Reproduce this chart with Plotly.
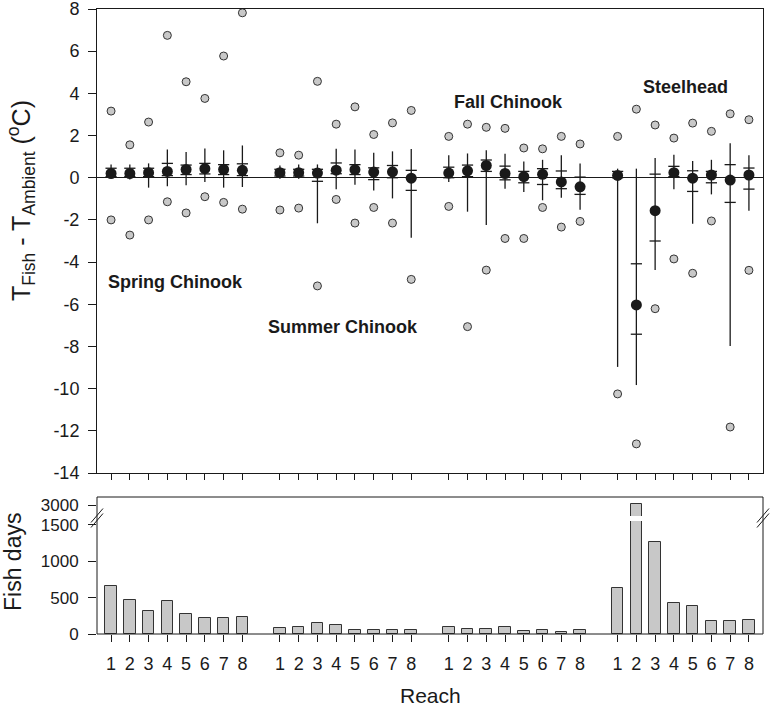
import plotly.graph_objects as go

# ---------------- data ----------------
groups = ["Spring Chinook", "Summer Chinook", "Fall Chinook", "Steelhead"]
reaches = [1, 2, 3, 4, 5, 6, 7, 8]

# mean temperature difference (black dots)
spring_mean = [0.20, 0.20, 0.24, 0.30, 0.39, 0.43, 0.39, 0.35]
summer_mean = [0.24, 0.24, 0.22, 0.36, 0.38, 0.27, 0.28, -0.02]
fall_mean = [0.22, 0.33, 0.58, 0.20, 0.05, 0.16, -0.20, -0.43]
steel_mean = [0.11, -6.03, -1.56, 0.24, -0.02, 0.13, -0.11, 0.13]

# extreme values (grey dots)
spring_max = [3.16, 1.56, 2.64, 6.75, 4.55, 3.76, 5.77, 7.82]
summer_max = [1.18, 1.07, 4.57, 2.54, 3.36, 2.05, 2.60, 3.19]
fall_max = [1.96, 2.54, 2.39, 2.34, 1.41, 1.37, 1.96, 1.60]
steel_max = [1.96, 3.25, 2.50, 1.88, 2.59, 2.20, 3.03, 2.75]

spring_min = [-2.00, -2.72, -2.00, -1.14, -1.67, -0.90, -1.17, -1.49]
summer_min = [-1.53, -1.44, -5.13, -1.03, -2.15, -1.41, -2.15, -4.82]
fall_min = [-1.36, -7.06, -4.38, -2.88, -2.88, -1.41, -2.34, -2.07]
steel_min = [-10.25, -12.62, -6.21, -3.85, -4.53, -2.05, -11.82, -4.39]

# whisker ends
spring_hi = [0.63, 0.63, 0.68, 1.34, 1.22, 1.39, 1.30, 1.53]
summer_hi = [0.58, 0.63, 0.63, 1.37, 1.34, 1.18, 1.25, 1.36]
fall_hi = [1.07, 1.15, 1.30, 1.14, 0.77, 0.85, 1.06, 0.68]
steel_hi = [0.43, 0.43, 0.93, 1.09, 0.79, 0.85, 1.63, 1.07]

spring_lo = [-0.02, -0.08, -0.47, -0.40, -0.36, -0.20, -0.47, -0.44]
summer_lo = [-0.05, -0.05, -2.16, -0.55, -0.33, -0.60, -0.98, -2.84]
fall_lo = [-0.20, -1.61, -2.24, -0.52, -0.68, -1.07, -0.95, -1.52]
steel_lo = [-8.97, -9.83, -4.38, -0.55, -2.18, -0.79, -7.98, -1.56]

# quartile caps
spring_q3 = [0.45, 0.45, 0.45, 0.68, 0.60, 0.68, 0.62, 0.66]
summer_q3 = [0.40, 0.40, 0.40, 0.70, 0.62, 0.47, 0.58, 0.35]
fall_q3 = [0.50, 0.60, 0.84, 0.55, 0.30, 0.43, 0.32, 0.03]
steel_q3 = [0.30, -4.08, 0.17, 0.54, 0.33, 0.30, 0.62, 0.46]

spring_q1 = [0.05, 0.05, 0.05, 0.10, 0.15, 0.18, 0.15, 0.10]
summer_q1 = [0.08, 0.08, -0.17, 0.19, 0.15, -0.09, 0.00, -0.60]
fall_q1 = [0.00, 0.05, 0.30, -0.10, -0.24, -0.32, -0.52, -0.79]
steel_q1 = [0.00, -7.42, -3.00, 0.05, -0.65, -0.24, -1.17, -0.54]

# fish days (bars)
spring_days = [655, 465, 320, 453, 278, 213, 222, 238]
summer_days = [83, 97, 153, 125, 56, 51, 56, 60]
fall_days = [102, 74, 69, 97, 42, 56, 32, 56]
steel_days = [633, 3030, 1263, 421, 380, 172, 172, 195]

# tick labels
reach_tick_labels = [str(r) for r in reaches]
temp_ticks = [-14, -12, -10, -8, -6, -4, -2, 0, 2, 4, 6, 8]
temp_tick_labels = ["-14", "-12", "-10", "-8", "-6", "-4", "-2", "0", "2", "4", "6", "8"]
days_ticks_low = [0, 500, 1000, 1500]
days_ticks_high = [3000]
# --------------------------------------

means = spring_mean + summer_mean + fall_mean + steel_mean
maxs = spring_max + summer_max + fall_max + steel_max
mins = spring_min + summer_min + fall_min + steel_min
his = spring_hi + summer_hi + fall_hi + steel_hi
los = spring_lo + summer_lo + fall_lo + steel_lo
q3s = spring_q3 + summer_q3 + fall_q3 + steel_q3
q1s = spring_q1 + summer_q1 + fall_q1 + steel_q1
days = spring_days + summer_days + fall_days + steel_days

xpos = [g * 9 + r for g in range(len(groups)) for r in reaches]
ticktext = reach_tick_labels * len(groups)

FONT = "Arial, Liberation Sans, Helvetica, sans-serif"
INK = "#1a1a1a"
GREY = "#c8c8c8"

fig = go.Figure()

# grey extreme dots
fig.add_trace(go.Scatter(
    x=xpos + xpos, y=maxs + mins, mode="markers",
    marker=dict(size=8, color=GREY, line=dict(color="#333333", width=1)),
    xaxis="x", yaxis="y", showlegend=False, hoverinfo="skip"))

# quartile caps
fig.add_trace(go.Scatter(
    x=xpos + xpos, y=q3s + q1s, mode="markers",
    marker=dict(symbol="line-ew", size=8, color=INK, line=dict(color=INK, width=1.3)),
    xaxis="x", yaxis="y", showlegend=False, hoverinfo="skip"))

# means with whiskers
fig.add_trace(go.Scatter(
    x=xpos, y=means, mode="markers",
    marker=dict(size=11, color=INK),
    error_y=dict(type="data", symmetric=False,
                 array=[h - m for h, m in zip(his, means)],
                 arrayminus=[m - l for m, l in zip(means, los)],
                 width=0, thickness=1.3, color=INK),
    xaxis="x", yaxis="y", showlegend=False))

# bars - lower segment and upper (broken) segment
for ya in ["y2", "y3"]:
    fig.add_trace(go.Bar(
        x=xpos, y=days, width=0.62,
        marker=dict(color=GREY, line=dict(color="#333333", width=1)),
        xaxis="x2", yaxis=ya, showlegend=False))

H_PLOT = 625.0  # pixels from y=9 to y=634
def py(pix):
    return (634 - pix) / H_PLOT
W_PLOT = 666.0
def px(pix):
    return (pix - 97) / W_PLOT

TICKFONT = dict(family=FONT, size=18, color=INK)
axis_common = dict(showgrid=False, ticks="outside", tickwidth=1,
                   tickcolor=INK, linecolor=INK, linewidth=1, automargin=False,
                   ticklabeloverflow="allow")
BOTFONT = dict(family=FONT, size=17, color=INK)

fig.update_layout(
    template="none",
    width=772, height=710,
    margin=dict(l=97, r=9, t=9, b=76, autoexpand=False),
    paper_bgcolor="white", plot_bgcolor="white",
    bargap=0,
    font=dict(family=FONT, color=INK),
    xaxis=dict(domain=[0, 1], anchor="y", range=[0.25, 35.75],
               tickvals=xpos, showticklabels=False, showline=True, mirror=True,
               zeroline=False, ticklen=6, tickfont=TICKFONT, **axis_common),
    yaxis=dict(domain=[py(473), 1], anchor="x", range=[-14, 8],
               tickvals=temp_ticks, ticktext=temp_tick_labels,
               showline=True, mirror=True, zeroline=True, zerolinecolor=INK,
               zerolinewidth=1.2, ticklen=8, ticklabelstandoff=5,
               tickfont=TICKFONT, **axis_common),
    xaxis2=dict(domain=[0, 1], anchor="y2", range=[0.25, 35.75],
                tickvals=xpos, ticktext=ticktext, showline=False, zeroline=False,
                ticklen=7, ticklabelstandoff=6, tickfont=TICKFONT, **axis_common),
    yaxis2=dict(domain=[0, py(521)], anchor="x2", range=[0, 1552],
                tickvals=days_ticks_low, showline=False, zeroline=False,
                ticklen=8, ticklabelstandoff=6, tickfont=BOTFONT, **axis_common),
    yaxis3=dict(domain=[py(516), py(497)], anchor="x2", range=[2790, 3170],
                tickvals=days_ticks_high, showline=False, zeroline=False,
                ticklen=8, ticklabelstandoff=6, tickfont=BOTFONT, **axis_common),
)

shapes = [
    # frame of the bar panel
    dict(type="rect", xref="paper", yref="paper", x0=0, x1=1, y0=0, y1=py(497),
         line=dict(color=INK, width=1), layer="above"),
]
# break marks on both sides
for xc in [97, 763]:
    for dy in [-2.5, 2.5]:
        yc = 518 + dy
        shapes.append(dict(type="line", xref="paper", yref="paper",
                           x0=px(xc - 6), y0=py(yc + 7), x1=px(xc + 6), y1=py(yc - 7),
                           line=dict(color=INK, width=1)))
fig.update_layout(shapes=shapes)

# group labels
label_pos = {"Spring Chinook": (4.46, -4.95), "Summer Chinook": (13.34, -7.1),
             "Fall Chinook": (22.16, 3.59), "Steelhead": (31.6, 4.3)}
for name in groups:
    x, y = label_pos[name]
    fig.add_annotation(x=x, y=y, xref="x", yref="y", text="<b>%s</b>" % name,
                       xanchor="center", yanchor="middle",
                       showarrow=False, font=dict(family=FONT, size=18, color=INK))

# axis titles as annotations (positioned in pixels)
fig.add_annotation(x=px(21), y=py(201), xref="paper", yref="paper",
                   xanchor="center", yanchor="middle",
                   text="T<sub>Fish</sub> - T<sub>Ambient</sub> (<sup>o</sup>C)",
                   textangle=-90, showarrow=False,
                   font=dict(family=FONT, size=25, color=INK))
fig.add_annotation(x=px(13), y=py(562), xref="paper", yref="paper",
                   xanchor="center", yanchor="middle",
                   text="Fish days", textangle=-90, showarrow=False,
                   font=dict(family=FONT, size=23, color=INK))
fig.add_annotation(x=px(430), y=py(695), xref="paper", yref="paper",
                   xanchor="center", yanchor="middle",
                   text="Reach", showarrow=False,
                   font=dict(family=FONT, size=21, color=INK))

fig.write_html("out.html", config={"displayModeBar": False},
               post_script="document.body.style.margin='0px';")
